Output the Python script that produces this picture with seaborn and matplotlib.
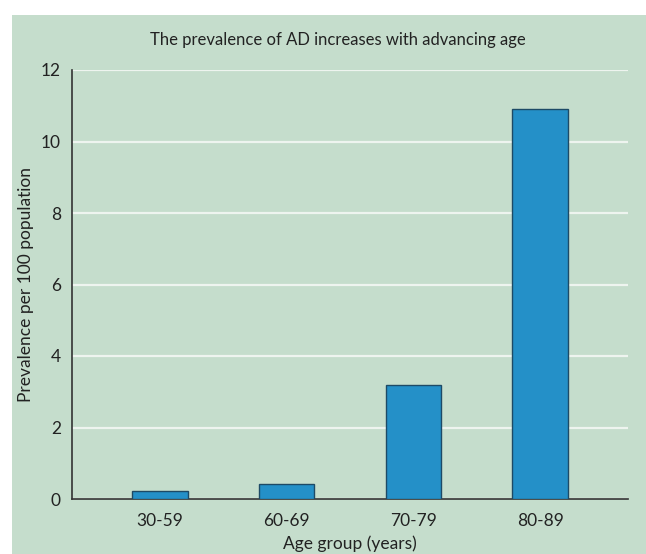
import matplotlib.pyplot as plt
import matplotlib.patches as mpatches
import pandas as pd
import seaborn as sns

# data
age_groups = ['30-59', '60-69', '70-79', '80-89']
prevalence = [0.22, 0.42, 3.2, 10.9]
y_ticks = [0, 2, 4, 6, 8, 10, 12]

bg = '#c5ddcc'
bar_col = '#2490c8'

df = pd.DataFrame({'age': age_groups, 'prev': prevalence})

plt.rcParams['font.family'] = ['Lato', 'DejaVu Sans']

fig = plt.figure(figsize=(6.46, 5.54), dpi=100, facecolor='white')
# green panel with thin white margin at top and left
fig.patches.append(mpatches.Rectangle((12 / 646, 0), 1, 1 - 15 / 554,
                                      transform=fig.transFigure,
                                      facecolor=bg, edgecolor='none', zorder=-10))
ax = fig.add_axes([72 / 646, 1 - 499 / 554, 556 / 646, 429 / 554])
ax.set_facecolor(bg)
ax.patch.set_alpha(0)

sns.barplot(data=df, x='age', y='prev', order=age_groups, color=bar_col,
            width=0.44, edgecolor='#1d4a66', linewidth=1.0, saturation=1,
            ax=ax, zorder=3)

ax.set_xlim(-0.69, 3.69)
ax.set_ylim(0, 12)
ax.set_yticks(y_ticks)
ax.yaxis.grid(True, color='#eef4ef', linewidth=1.6, zorder=1)
ax.set_axisbelow(True)

for s in ['top', 'right']:
    ax.spines[s].set_visible(False)
for s in ['left', 'bottom']:
    ax.spines[s].set_color('#333333')
    ax.spines[s].set_linewidth(1.2)

ax.tick_params(axis='both', length=0, labelsize=12.5, colors='#222222')
ax.tick_params(axis='y', pad=8)
ax.tick_params(axis='x', pad=10)

ax.set_xlabel('Age group (years)', fontsize=12.5, color='#222222', labelpad=5)
ax.set_ylabel('Prevalence per 100 population', fontsize=12.5, color='#222222', labelpad=5)
fig.text(338 / 646, 1 - 40 / 554, 'The prevalence of AD increases with advancing age',
         ha='center', va='center', fontsize=12, color='#222222')

fig.savefig('out.png', dpi=100, facecolor='white')
